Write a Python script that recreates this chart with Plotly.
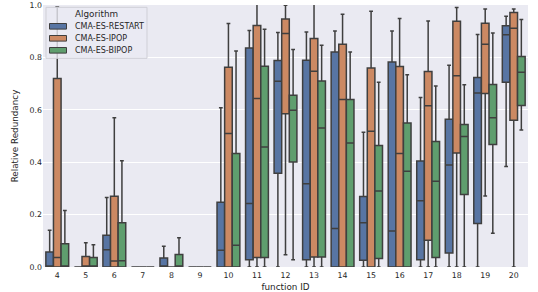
import plotly.graph_objects as go

functions = ["4", "5", "6", "7", "8", "9", "10", "11", "12", "13", "14", "15", "16", "17", "18", "19", "20"]
algorithms = ["CMA-ES-RESTART", "CMA-ES-IPOP", "CMA-ES-BIPOP"]
colors = ["#5875a3", "#cc8963", "#5f9e6e"]

# RESTART
restart_low = [0, 0, 0, 0, 0, 0, 0, 0, 0, 0, 0, 0, 0, 0, 0, 0, 0.384]
restart_q1 = [0, 0, 0, 0, 0, 0, 0, 0.028, 0.358, 0.028, 0, 0.026, 0, 0.028, 0.053, 0.166, 0.705]
restart_med = [0, 0, 0.066, 0, 0, 0, 0.064, 0.242, 0.709, 0.318, 0.147, 0.169, 0.137, 0.253, 0.389, 0.664, 0.886]
restart_q3 = [0.057, 0, 0.121, 0, 0.034, 0, 0.247, 0.836, 0.788, 0.789, 0.821, 0.269, 0.782, 0.405, 0.564, 0.723, 0.921]
restart_high = [0.14, 0, 0.265, 0, 0.079, 0, 0.608, 0.903, 0.895, 0.897, 0.901, 0.514, 0.901, 0.647, 0.770, 0.887, 0.957]

# IPOP
ipop_low = [0, 0, 0, 0, 0, 0, 0, 0, 0.047, 0, 0, 0, 0, 0, 0, 0.271, 0]
ipop_q1 = [0, 0, 0, 0, 0, 0, 0, 0.036, 0.585, 0.038, 0, 0, 0, 0.102, 0.435, 0.662, 0.560]
ipop_med = [0.036, 0, 0.023, 0, 0, 0, 0.510, 0.643, 0.891, 0.747, 0.639, 0.518, 0.433, 0.615, 0.730, 0.850, 0.911]
ipop_q3 = [0.719, 0.040, 0.270, 0, 0, 0, 0.762, 0.922, 0.947, 0.872, 0.850, 0.760, 0.765, 0.746, 0.938, 0.930, 0.971]
ipop_high = [0.992, 0.093, 0.570, 0, 0, 0, 0.929, 1.05, 0.999, 1.05, 0.965, 0.976, 0.948, 0.939, 0.990, 0.985, 0.985]

# BIPOP
bipop_low = [0, 0, 0, 0, 0, 0, 0, 0, 0.028, 0, 0, 0, 0, 0, 0, 0.129, 0.523]
bipop_q1 = [0, 0, 0, 0, 0, 0, 0, 0.036, 0.401, 0.038, 0, 0.032, 0, 0.036, 0.277, 0.468, 0.616]
bipop_med = [0, 0, 0.024, 0, 0, 0, 0.083, 0.458, 0.598, 0.531, 0.473, 0.290, 0.365, 0.327, 0.498, 0.570, 0.743]
bipop_q3 = [0.089, 0.036, 0.169, 0, 0.048, 0, 0.433, 0.766, 0.656, 0.710, 0.639, 0.464, 0.550, 0.479, 0.544, 0.697, 0.803]
bipop_high = [0.216, 0.085, 0.406, 0, 0.112, 0, 0.824, 0.907, 0.830, 0.846, 0.821, 0.705, 0.734, 0.691, 0.696, 0.893, 0.945]

stats = [
    (restart_low, restart_q1, restart_med, restart_q3, restart_high),
    (ipop_low, ipop_q1, ipop_med, ipop_q3, ipop_high),
    (bipop_low, bipop_q1, bipop_med, bipop_q3, bipop_high),
]

EDGE = "#3f3f3f"

fig = go.Figure()
for name, color, (lo, q1, med, q3, hi) in zip(algorithms, colors, stats):
    fig.add_trace(go.Box(
        name=name,
        x=functions,
        lowerfence=lo, q1=q1, median=med, q3=q3, upperfence=hi,
        fillcolor=color,
        line=dict(color=EDGE, width=1.5),
        whiskerwidth=0.5,
        boxpoints=False,
        hoverinfo="skip",
        showlegend=False,
    ))

# Plot area in pixels: left 43, right 528, top ~4.7, bottom ~266.7
L, R, T, B = 43.0, 528.0, 4.7, 266.7
def px(x):
    return (x - L) / (R - L)
def py(y):
    return (B - y) / (B - T)

shapes = []
annotations = []
# legend frame
shapes.append(dict(type="rect", xref="paper", yref="paper",
                   x0=px(46), x1=px(147), y0=py(58), y1=py(7),
                   fillcolor="rgba(234,234,242,0.8)", line=dict(color="#cfcfd6", width=1),
                   layer="above"))
annotations.append(dict(text="Algorithm", xref="paper", yref="paper",
                        x=px(96.5), y=py(14), xanchor="center", yanchor="middle",
                        showarrow=False, font=dict(size=8.8, color="#262626")))
for i, (name, color) in enumerate(zip(algorithms, colors)):
    yc = 26 + 12 * i
    shapes.append(dict(type="rect", xref="paper", yref="paper",
                       x0=px(49.5), x1=px(66.5), y0=py(yc + 2.8), y1=py(yc - 2.8),
                       fillcolor=color, line=dict(color=EDGE, width=1), layer="above"))
    annotations.append(dict(text=name, xref="paper", yref="paper",
                            x=px(72.5), y=py(yc), xanchor="left", yanchor="middle",
                            showarrow=False, font=dict(size=8, color="#262626")))

fig.update_layout(
    width=538, height=292,
    boxmode="group", boxgap=0.2, boxgroupgap=0,
    paper_bgcolor="white", plot_bgcolor="#eaeaf2",
    margin=dict(l=L, r=538 - R, t=T, b=292 - B, pad=0, autoexpand=False),
    font=dict(family="DejaVu Sans", size=8, color="#262626"),
    showlegend=False,
    shapes=shapes,
    annotations=annotations,
    xaxis=dict(
        type="category", categoryorder="array", categoryarray=functions,
        showgrid=False, ticks="", zeroline=False, showline=False,
        ticklabelstandoff=2,
        title=dict(text="function ID", standoff=6, font=dict(size=8.8)),
        automargin=False, tickfont=dict(size=7.8),
    ),
    yaxis=dict(
        range=[0, 1], tickvals=[0, 0.2, 0.4, 0.6, 0.8, 1.0],
        ticktext=["0.0", "0.2", "0.4", "0.6", "0.8", "1.0"],
        showgrid=True, gridcolor="white", gridwidth=1, zeroline=False, ticks="", showline=False,
        title=dict(text="Relative Redundancy", standoff=9, font=dict(size=8.8)),
        automargin=False, tickfont=dict(size=7.8),
    ),
)

fig.write_html("out.html", config={"displayModeBar": False},
               post_script="document.body.style.margin='0px';")
